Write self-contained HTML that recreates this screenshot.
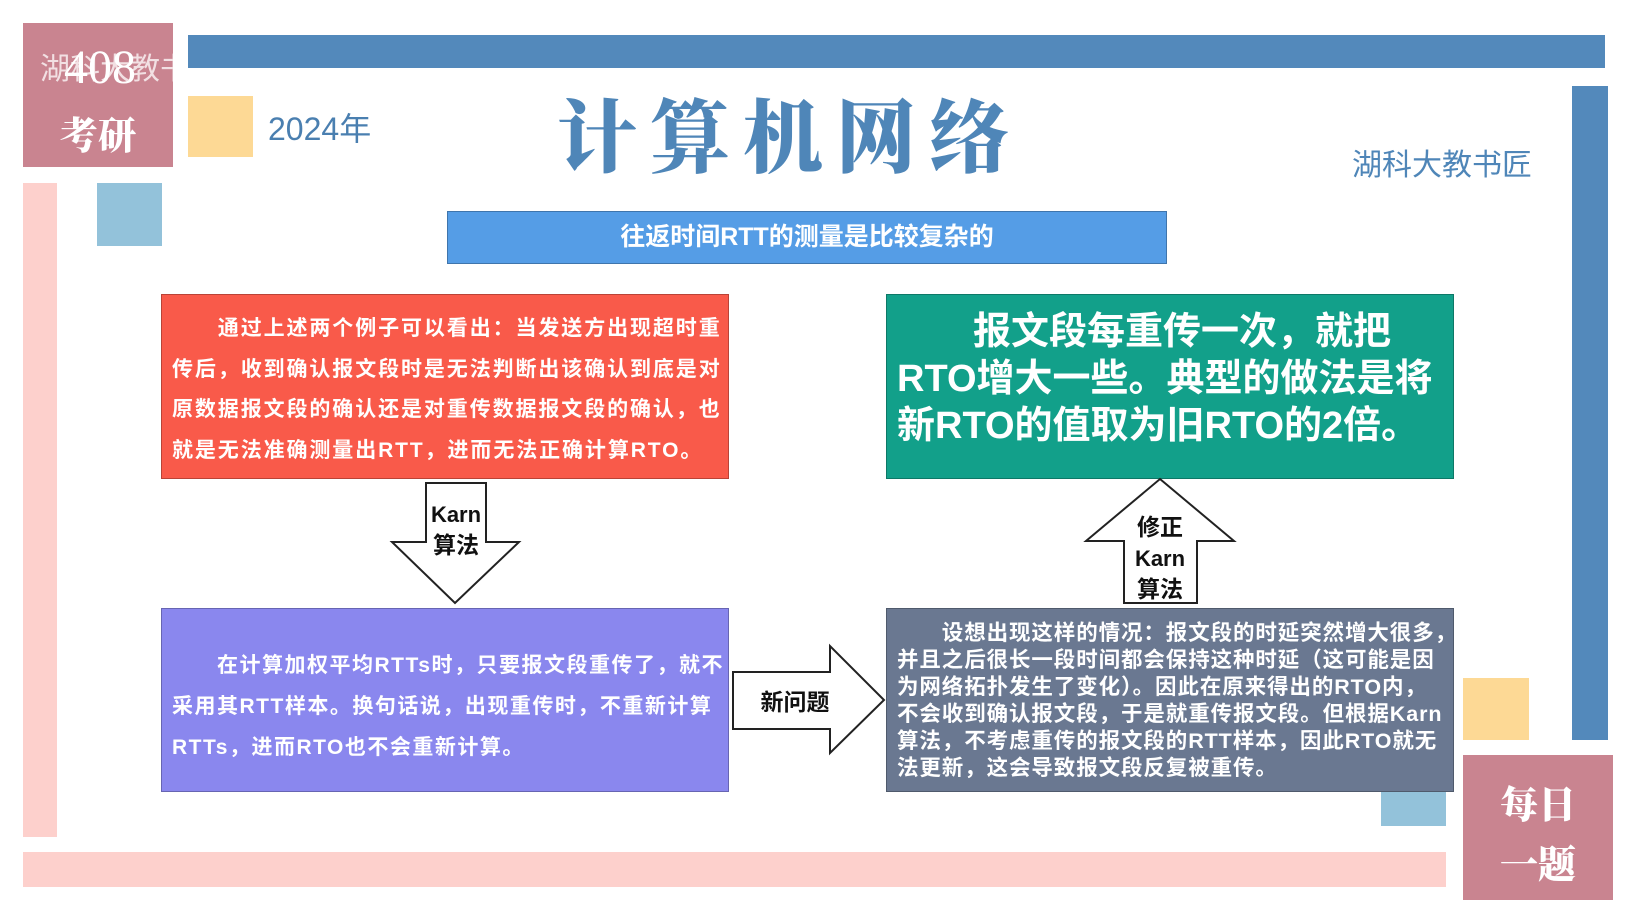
<!DOCTYPE html>
<html><head><meta charset="utf-8"><style>
*{margin:0;padding:0;box-sizing:border-box}
body{width:1632px;height:918px;background:#fff;position:relative;overflow:hidden;font-family:"Liberation Sans","Noto Sans CJK SC",sans-serif}
.a{position:absolute}
.bx{position:absolute;color:#fff;font-weight:bold;border:1px solid rgba(0,0,0,.25);white-space:nowrap;overflow:hidden}
</style></head><body>
<div class="a" style="left:23px;top:23px;width:150px;height:144px;background:#c98490"></div>
<div class="a" style="left:40px;top:40px;width:120px;text-align:center;color:#fff;font-family:'Liberation Serif',serif;font-size:48px;line-height:56px">408</div>
<div class="a" style="left:23px;top:105px;width:150px;text-align:center;color:#fff;font-family:'Noto Serif CJK SC',serif;font-weight:900;font-size:38px">考研</div>
<div class="a" style="left:40px;top:44px;color:rgba(255,255,255,.75);font-size:30px;font-family:'Noto Sans CJK SC',sans-serif">湖科大教书匠 <span style="font-weight:bold;font-family:'Liberation Sans'">bilibili</span></div>
<div class="a" style="left:188px;top:35px;width:1417px;height:33px;background:#5389bb"></div>
<div class="a" style="left:1572px;top:86px;width:36px;height:654px;background:#5389bb"></div>
<div class="a" style="left:188px;top:96px;width:65px;height:61px;background:#fdd995"></div>
<div class="a" style="left:268px;top:104px;color:#4a7fb0;font-size:32px;font-family:'Liberation Sans','Noto Sans CJK SC',sans-serif">2024年</div>
<div class="a" style="left:557px;top:74px;color:#4f86b8;font-size:80px;letter-spacing:13px;font-family:'Noto Serif CJK SC',serif;font-weight:900">计算机网络</div>
<div class="a" style="left:1352px;top:140px;color:#4f86b8;font-size:30px;font-family:'Noto Sans CJK SC',sans-serif">湖科大教书匠</div>
<div class="a" style="left:23px;top:183px;width:34px;height:654px;background:#fdd0cc"></div>
<div class="a" style="left:97px;top:183px;width:65px;height:63px;background:#93c2da"></div>
<div class="bx" style="left:447px;top:211px;width:720px;height:53px;background:#559de6;font-size:25px;text-align:center;line-height:51px">往返时间RTT的测量是比较复杂的</div>
<div class="bx" style="left:161px;top:294px;width:568px;height:185px;background:#f95a4a;font-size:21px;line-height:40.5px;padding:14px 4px 0 10px;letter-spacing:1.9px">&emsp;&emsp;通过上述两个例子可以看出：当发送方出现超时重<br>传后，收到确认报文段时是无法判断出该确认到底是对<br>原数据报文段的确认还是对重传数据报文段的确认，也<br>就是无法准确测量出RTT，进而无法正确计算RTO。</div>
<div class="bx" style="left:886px;top:294px;width:568px;height:185px;background:#12a08a;font-size:38px;line-height:47px;padding:14px 10px 0 10px">&emsp;&emsp;报文段每重传一次，就把<br>RTO增大一些。典型的做法是将<br>新RTO的值取为旧RTO的2倍。</div>
<div class="bx" style="left:161px;top:608px;width:568px;height:184px;background:#8a87ee;font-size:21px;line-height:41px;padding:36px 4px 0 10px;letter-spacing:1.5px">&emsp;&emsp;在计算加权平均RTTs时，只要报文段重传了，就不<br>采用其RTT样本。换句话说，出现重传时，不重新计算<br>RTTs，进而RTO也不会重新计算。</div>
<div class="bx" style="left:886px;top:608px;width:568px;height:184px;background:#6a7891;font-size:21.5px;line-height:27px;padding:11px 2px 0 10px;letter-spacing:0.9px">&emsp;&emsp;设想出现这样的情况：报文段的时延突然增大很多，<br>并且之后很长一段时间都会保持这种时延（这可能是因<br>为网络拓扑发生了变化）。因此在原来得出的RTO内，<br>不会收到确认报文段，于是就重传报文段。但根据Karn<br>算法，不考虑重传的报文段的RTT样本，因此RTO就无<br>法更新，这会导致报文段反复被重传。</div>
<svg class="a" style="left:0;top:0" width="1632" height="918">
<g fill="#fff" stroke="#222" stroke-width="2">
<polygon points="426,483 486,483 486,542 519,542 455,603 392,542 426,542"/>
<polygon points="1160,479 1234,541 1197,541 1197,603 1124,603 1124,541 1086,541"/>
<polygon points="733,672 830,672 830,646 884,700 830,753 830,729 733,729"/>
</g>
<g font-family="Liberation Sans,Noto Sans CJK SC,sans-serif" font-weight="bold" fill="#111" text-anchor="middle">
<text x="456" y="522" font-size="22">Karn</text>
<text x="456" y="553" font-size="23">算法</text>
<text x="1160" y="535" font-size="23">修正</text>
<text x="1160" y="566" font-size="22">Karn</text>
<text x="1160" y="597" font-size="23">算法</text>
<text x="795" y="710" font-size="23">新问题</text>
</g>
</svg>
<div class="a" style="left:1381px;top:792px;width:65px;height:34px;background:#93c2da"></div>
<div class="a" style="left:1463px;top:678px;width:66px;height:62px;background:#fdd995"></div>
<div class="a" style="left:1463px;top:755px;width:150px;height:145px;background:#c98490"></div>
<div class="a" style="left:1463px;top:772px;width:150px;text-align:center;color:#fff;font-family:'Noto Serif CJK SC',serif;font-weight:900;font-size:38px;line-height:60px">每日<br>一题</div>
<div class="a" style="left:23px;top:852px;width:1423px;height:35px;background:#fdd0cc"></div>
</body></html>
